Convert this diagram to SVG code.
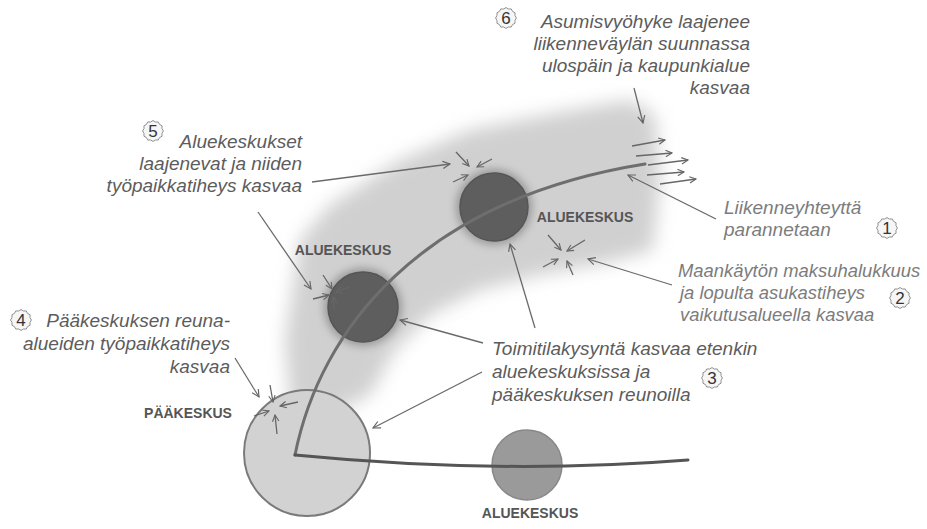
<svg xmlns="http://www.w3.org/2000/svg" xmlns:xlink="http://www.w3.org/1999/xlink" width="927" height="529" viewBox="0 0 927 529">
<style>
.lbl{font-family:"Liberation Sans",Arial,sans-serif;font-style:italic;font-size:19px;fill:#5c5c5c}
.lbl2{fill:#7c7c7c}
.lbl3{font-size:18.4px}
.node{font-family:"Liberation Sans",Arial,sans-serif;font-weight:bold;font-size:14px;fill:#555;text-anchor:middle}
.num{font-family:"Liberation Sans",Arial,sans-serif;font-size:17px;fill:#333;text-anchor:middle}
.con{fill:none;stroke:#6a6a6a;stroke-width:1.3}
.sm{fill:none;stroke:#666;stroke-width:1.3}
.road{fill:none;stroke:#6e6e6e;stroke-width:3;stroke-linecap:round}
.badge{fill:#f6f6f6;stroke:#8a8a8a;stroke-width:1;stroke-linejoin:round}
</style>
<defs>
<filter id="blur" x="-20%" y="-20%" width="140%" height="140%"><feGaussianBlur stdDeviation="9"/></filter>
<filter id="halo" x="-30%" y="-30%" width="160%" height="160%"><feGaussianBlur stdDeviation="4"/></filter>
<marker id="ah" viewBox="0 0 10 10" refX="9" refY="5" markerWidth="9" markerHeight="9" orient="auto" markerUnits="userSpaceOnUse"><path d="M1,1 L9,5 L1,9" fill="none" stroke="#666" stroke-width="1.3"/></marker>
<marker id="ahs" viewBox="0 0 10 10" refX="9" refY="5" markerWidth="8" markerHeight="8" orient="auto" markerUnits="userSpaceOnUse"><path d="M1,1 L9,5 L1,9" fill="none" stroke="#666" stroke-width="1.4"/></marker>
<polygon id="badge" class="badge" points="11,0 9.47,2.54 9.53,5.5 6.93,6.93 5.5,9.53 2.54,9.47 0,11 -2.54,9.47 -5.5,9.53 -6.93,6.93 -9.53,5.5 -9.47,2.54 -11,0 -9.47,-2.54 -9.53,-5.5 -6.93,-6.93 -5.5,-9.53 -2.54,-9.47 0,-11 2.54,-9.47 5.5,-9.53 6.93,-6.93 9.53,-5.5 9.47,-2.54"/>
</defs>
<rect width="927" height="529" fill="#ffffff"/>

<g id="influence-zone">
<path d="M300,240 L330,205 L400,160 L470,130 L560,112 L630,100 L655,115 L660,180 L653,250 L610,262 L540,275 L480,290 L430,315 L395,350 L370,395 L330,415 L290,405 L285,340 Z" fill="#d0d0d0" filter="url(#blur)"/>
</g>

<g id="paakeskus">
<circle cx="307" cy="453" r="63" fill="#d2d2d2" stroke="#7a7a7a" stroke-width="2"/>
<text class="node" x="188" y="418">PÄÄKESKUS</text>
</g>

<g id="aluekeskus-left">
<circle cx="363" cy="307" r="39" fill="#6a6a6a" opacity="0.55" filter="url(#halo)"/>
<circle cx="363" cy="307" r="35" fill="#5e5e5e" stroke="#555" stroke-width="1.5"/>
<text class="node" x="343" y="255">ALUEKESKUS</text>
</g>

<g id="aluekeskus-top">
<circle cx="494" cy="207" r="38" fill="#6a6a6a" opacity="0.55" filter="url(#halo)"/>
<circle cx="494" cy="207" r="34" fill="#5e5e5e" stroke="#555" stroke-width="1.5"/>
<text class="node" x="585" y="222">ALUEKESKUS</text>
</g>

<g id="aluekeskus-bottom">
<circle cx="527" cy="465" r="35" fill="#9a9a9a" stroke="#888" stroke-width="1.5"/>
<text class="node" x="530" y="518">ALUEKESKUS</text>
</g>

<g id="connectors">
<path class="road" d="M295,455 C320,330 420,200 645,164"/>
<path class="road" style="stroke:#555" d="M295,455 Q500,475 688,460"/>

<line class="con" x1="634" y1="88" x2="643" y2="123" marker-end="url(#ah)"/>
<line class="con" x1="312" y1="182" x2="450" y2="164" marker-end="url(#ah)"/>
<line class="con" x1="258" y1="212" x2="311" y2="289" marker-end="url(#ah)"/>
<line class="con" x1="235" y1="358" x2="259" y2="397" marker-end="url(#ah)"/>
<line class="con" x1="535" y1="328" x2="510" y2="244" marker-end="url(#ah)"/>
<line class="con" x1="483" y1="343" x2="400" y2="320" marker-end="url(#ah)"/>
<line class="con" x1="482" y1="372" x2="373" y2="428" marker-end="url(#ah)"/>
<line class="con" x1="716" y1="219" x2="628" y2="175" marker-end="url(#ah)"/>
<line class="con" x1="672" y1="285" x2="588" y2="259" marker-end="url(#ah)"/>

<line class="sm" x1="632" y1="146" x2="665" y2="140" marker-end="url(#ahs)"/>
<line class="sm" x1="636" y1="156" x2="672" y2="153" marker-end="url(#ahs)"/>
<line class="sm" x1="648" y1="165" x2="688" y2="160" marker-end="url(#ahs)"/>
<line class="sm" x1="647" y1="175" x2="684" y2="172" marker-end="url(#ahs)"/>
<line class="sm" x1="660" y1="184" x2="696" y2="179" marker-end="url(#ahs)"/>

<line class="sm" x1="456" y1="152" x2="469" y2="166" marker-end="url(#ahs)"/>
<line class="sm" x1="492" y1="159" x2="477" y2="167" marker-end="url(#ahs)"/>
<line class="sm" x1="453" y1="182" x2="468" y2="175" marker-end="url(#ahs)"/>

<line class="sm" x1="323" y1="275" x2="332" y2="289" marker-end="url(#ahs)"/>
<line class="sm" x1="313" y1="299" x2="329" y2="295" marker-end="url(#ahs)"/>
<line class="sm" x1="350" y1="287" x2="336" y2="292" marker-end="url(#ahs)"/>
<line class="sm" x1="334" y1="310" x2="334" y2="297" marker-end="url(#ahs)"/>

<line class="sm" x1="270" y1="385" x2="273" y2="402" marker-end="url(#ahs)"/>
<line class="sm" x1="298" y1="402" x2="280" y2="406" marker-end="url(#ahs)"/>
<line class="sm" x1="254" y1="416" x2="269" y2="411" marker-end="url(#ahs)"/>
<line class="sm" x1="277" y1="434" x2="275" y2="415" marker-end="url(#ahs)"/>

<line class="sm" x1="548" y1="235" x2="561" y2="250" marker-end="url(#ahs)"/>
<line class="sm" x1="585" y1="240" x2="567" y2="251" marker-end="url(#ahs)"/>
<line class="sm" x1="543" y1="267" x2="558" y2="259" marker-end="url(#ahs)"/>
<line class="sm" x1="573" y1="275" x2="567" y2="261" marker-end="url(#ahs)"/>
</g>

<g id="label-1">
<use xlink:href="#badge" href="#badge" transform="translate(887,228) scale(0.95)"/>
<text class="num" x="887" y="234">1</text>
<text class="lbl lbl2" x="724" y="214">Liikenneyhteyttä</text>
<text class="lbl lbl2" x="724" y="236">parannetaan</text>
</g>

<g id="label-2">
<use xlink:href="#badge" href="#badge" transform="translate(900,298) scale(0.95)"/>
<text class="num" x="900" y="304">2</text>
<text class="lbl lbl2 lbl3" x="678" y="277">Maankäytön maksuhalukkuus</text>
<text class="lbl lbl2 lbl3" x="680" y="299">ja lopulta asukastiheys</text>
<text class="lbl lbl2 lbl3" x="680" y="321">vaikutusalueella kasvaa</text>
</g>

<g id="label-3">
<use xlink:href="#badge" href="#badge" transform="translate(712,378) scale(0.95)"/>
<text class="num" x="712" y="384">3</text>
<text class="lbl" x="492" y="355">Toimitilakysyntä kasvaa etenkin</text>
<text class="lbl" x="492" y="378">aluekeskuksissa ja</text>
<text class="lbl" x="492" y="401">pääkeskuksen reunoilla</text>
</g>

<g id="label-4">
<use xlink:href="#badge" href="#badge" transform="translate(21,320) scale(0.95)"/>
<text class="num" x="21" y="326">4</text>
<text class="lbl" x="230" y="327" text-anchor="end">Pääkeskuksen reuna-</text>
<text class="lbl" x="230" y="350" text-anchor="end">alueiden työpaikkatiheys</text>
<text class="lbl" x="230" y="373" text-anchor="end">kasvaa</text>
</g>

<g id="label-5">
<use xlink:href="#badge" href="#badge" transform="translate(153,131) scale(0.95)"/>
<text class="num" x="153" y="137">5</text>
<text class="lbl" x="302" y="148" text-anchor="end">Aluekeskukset</text>
<text class="lbl" x="302" y="170" text-anchor="end">laajenevat ja niiden</text>
<text class="lbl" x="302" y="192" text-anchor="end">työpaikkatiheys kasvaa</text>
</g>

<g id="label-6">
<use xlink:href="#badge" href="#badge" transform="translate(506,18) scale(0.95)"/>
<text class="num" x="506" y="24">6</text>
<text class="lbl" x="750" y="28" text-anchor="end">Asumisvyöhyke laajenee</text>
<text class="lbl" x="750" y="50" text-anchor="end">liikenneväylän suunnassa</text>
<text class="lbl" x="750" y="72" text-anchor="end">ulospäin ja kaupunkialue</text>
<text class="lbl" x="750" y="94" text-anchor="end">kasvaa</text>
</g>
</svg>
